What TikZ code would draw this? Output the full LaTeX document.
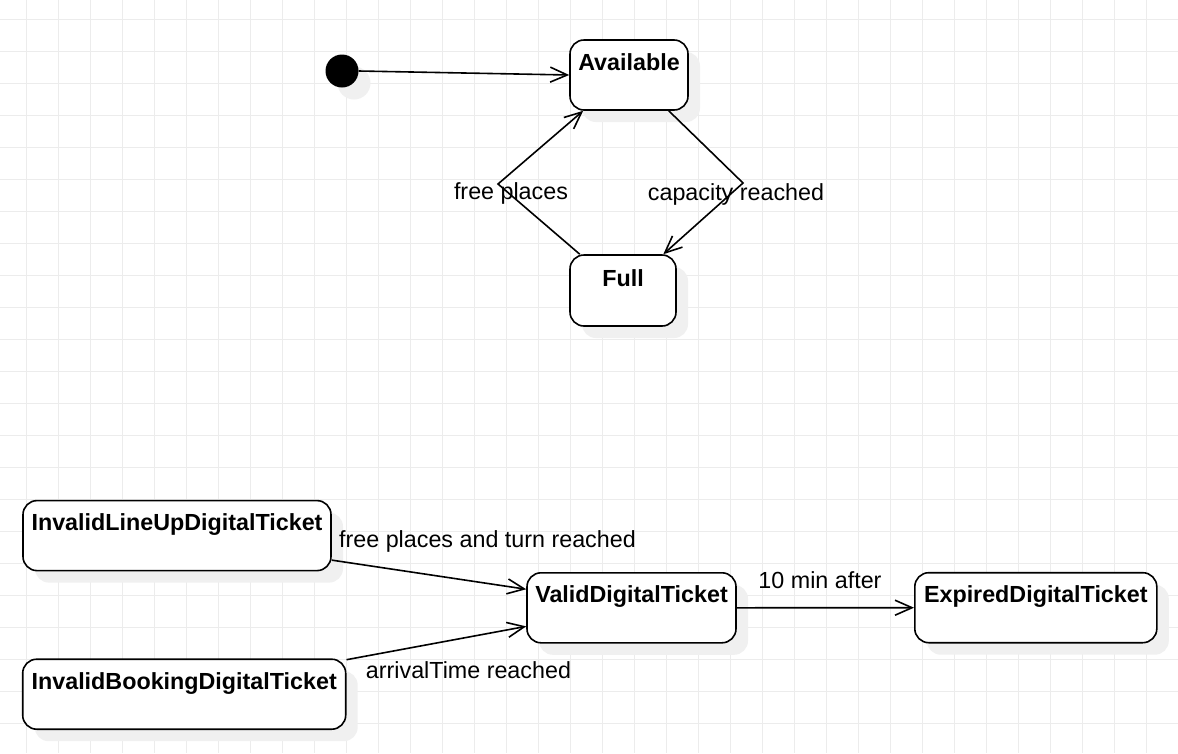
\documentclass[tikz,border=0pt]{standalone}
\usepackage{fontspec}
\setmainfont{Liberation Sans}
\usetikzlibrary{arrows.meta,shadows}
\definecolor{gridc}{RGB}{236,236,236}
\definecolor{shadowc}{RGB}{240,240,240}
\begin{document}
\begin{tikzpicture}[x=1pt,y=-1pt,
  statebox/.style={draw=black, fill=white, line width=1.6pt, rounded corners=14pt, inner sep=0pt,
    font=\fontsize{23.3}{27}\selectfont\bfseries,
    drop shadow={shadow xshift=12pt, shadow yshift=-12pt, fill=shadowc, opacity=1}},
  trans/.style={draw=black, line width=1.6pt, -{Straight Barb[length=17pt,width=15pt]}},
  lbl/.style={font=\fontsize{23.3}{27}\selectfont, inner sep=0pt, anchor=base}]
\fill[white] (0,0) rectangle (1178,753);
\useasboundingbox (0,0) rectangle (1178,753);
\foreach \i in {0,...,36} \draw[gridc, line width=1pt] (26.3+32*\i,0) -- (26.3+32*\i,753);
\foreach \j in {0,...,23} \draw[gridc, line width=1pt] (0,19.3+32*\j) -- (1178,19.3+32*\j);

\node[circle, fill=black, minimum size=33pt, inner sep=0pt,
  drop shadow={shadow xshift=12pt, shadow yshift=-12pt, fill=shadowc, opacity=1}] (init) at (342,71) {};

\node[statebox, minimum width=118pt, text height=30pt, text depth=40pt] (avail) at (629,75) {Available};
\node[statebox, minimum width=106pt, text height=31pt, text depth=40pt] (full) at (623,290.5) {Full};
\node[statebox, minimum width=308pt, text height=30pt, text depth=40pt] (lineup) at (177,535.6) {InvalidLineUpDigitalTicket};
\node[statebox, minimum width=323pt, text height=30pt, text depth=40pt] (booking) at (184.2,694.2) {InvalidBookingDigitalTicket};
\node[statebox, minimum width=209pt, text height=30pt, text depth=40pt] (valid) at (631.5,607.8) {ValidDigitalTicket};
\node[statebox, minimum width=242pt, text height=30pt, text depth=40pt] (expired) at (1035.8,607.7) {ExpiredDigitalTicket};

\coordinate (vR) at (743,183);
\coordinate (vL) at (498,184);

\draw[trans] (init.east) -- (avail.west);
\draw[trans] (avail.-42) -- (vR) -- (full.42);
\draw[trans] (full.140) -- (vL) -- (avail.218);
\draw[trans] (lineup.-9) -- (valid.170);
\draw[trans] (booking.12) -- (valid.190);
\draw[trans] (valid.east) -- (expired.west);

\node[lbl] (lcap) at (736,200.5) {capacity reached};
\node[lbl] (lfree) at (511,199) {free places};
\node[lbl] (lturn) at (487.5,547) {free places and turn reached};
\node[lbl] (larr) at (468.5,678) {arrivalTime reached};
\node[lbl] (lten) at (820,588) {10 min after};
\end{tikzpicture}
\end{document}
